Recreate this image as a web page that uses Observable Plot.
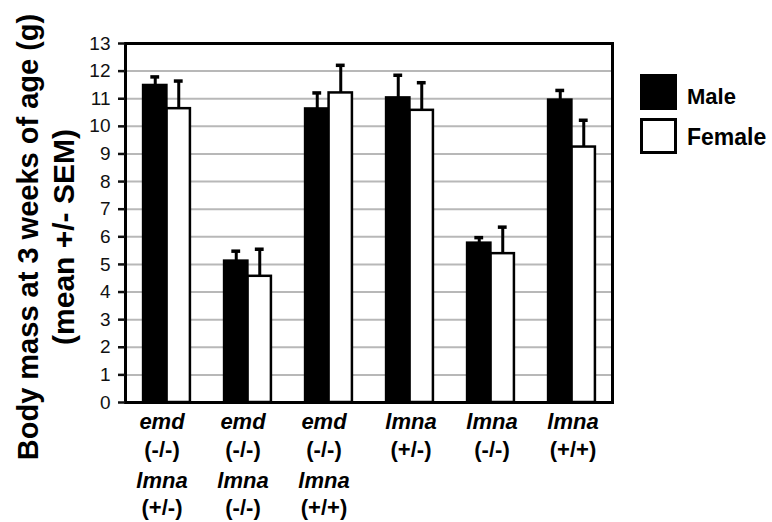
<!DOCTYPE html>
<html>
<head>
<meta charset="utf-8">
<script src="https://cdn.jsdelivr.net/npm/d3@7"></script>
<script src="https://cdn.jsdelivr.net/npm/@observablehq/plot@0.6"></script>
<style>
  html, body { margin: 0; padding: 0; background: white; }
  #wrap { position: relative; width: 772px; height: 522px; font-family: "Liberation Sans", Arial, sans-serif; }
  .sw { position: absolute; box-sizing: border-box; border: 3px solid black; width: 37px; height: 36px; }
  .lt { position: absolute; font-weight: bold; line-height: 1; transform: translateY(-50%); }
</style>
</head>
<body>
<div id="wrap"></div>
<script>
// ---- data ----
const groups = ["G1", "G2", "G3", "G4", "G5", "G6"];
const gene1 = ["emd", "emd", "emd", "lmna", "lmna", "lmna"];
const geno1 = ["(-/-)", "(-/-)", "(-/-)", "(+/-)", "(-/-)", "(+/+)"];
const gene2 = ["lmna", "lmna", "lmna", "", "", ""];
const geno2 = ["(+/-)", "(-/-)", "(+/+)", "", "", ""];
const maleMean = [11.48, 5.12, 10.63, 11.03, 5.77, 10.95];
const maleSem = [0.31, 0.36, 0.58, 0.82, 0.20, 0.35];
const femaleMean = [10.64, 4.57, 11.21, 10.58, 5.39, 9.25];
const femaleSem = [1.00, 0.98, 1.00, 1.00, 0.96, 0.97];
const yTicks = [0, 1, 2, 3, 4, 5, 6, 7, 8, 9, 10, 11, 12, 13];
const gridValues = [1, 2, 3, 4, 5, 6, 7, 8, 9, 10, 11, 12];
const seriesNames = ["Male", "Female"];
const yTitle1 = "Body mass at 3 weeks of age (g)";
const yTitle2 = "(mean +/- SEM)";

// ---- layout ----
const W = 772, H = 522;
const mL = 125, mR = 160, mT = 43, mB = 120;
const bw = (W - mL - mR) / groups.length;
const barW = 23.5;
const capHalf = 4.5;
const font = "Liberation Sans, Arial, sans-serif";

const idx = groups.map((g, i) => i);
const fourLine = idx.filter(i => gene2[i] !== "");
const twoLine = idx.filter(i => gene2[i] === "");
const male = idx.map(i => ({g: groups[i], v: maleMean[i], top: maleMean[i] + maleSem[i]}));
const female = idx.map(i => ({g: groups[i], v: femaleMean[i], top: femaleMean[i] + femaleSem[i]}));

const lbl = (data, arr, dy, italic, dx) => Plot.text(data, {
  x: i => groups[i], text: i => arr[i], frameAnchor: "bottom", lineAnchor: "bottom",
  dy, dx, fontSize: 22, fontWeight: "bold", fontStyle: italic ? "italic" : "normal", fill: "black"
});

const chart = Plot.plot({
  width: W, height: H,
  marginLeft: mL, marginRight: mR, marginTop: mT, marginBottom: mB,
  style: {fontFamily: font, background: "white", overflow: "visible"},
  x: {domain: groups, padding: 0, axis: null},
  y: {domain: [0, 13], axis: null},
  marks: [
    Plot.ruleY(gridValues, {stroke: "#b8b8b8", strokeWidth: 2}),
    Plot.barY(male, {x: "g", y: "v", fill: "black", stroke: "black", strokeWidth: 2.5,
      insetLeft: bw / 2 - barW, insetRight: bw / 2}),
    Plot.barY(female, {x: "g", y: "v", fill: "white", stroke: "black", strokeWidth: 2.5,
      insetLeft: bw / 2, insetRight: bw / 2 - barW}),
    Plot.ruleX(male, {x: "g", y1: "v", y2: "top", stroke: "black", strokeWidth: 3, dx: -barW / 2}),
    Plot.ruleX(female, {x: "g", y1: "v", y2: "top", stroke: "black", strokeWidth: 3, dx: barW / 2}),
    Plot.tickY(male, {x: "g", y: "top", stroke: "black", strokeWidth: 3.5,
      insetLeft: bw / 2 - barW / 2 - capHalf, insetRight: bw / 2 + barW / 2 - capHalf}),
    Plot.tickY(female, {x: "g", y: "top", stroke: "black", strokeWidth: 3.5,
      insetLeft: bw / 2 + barW / 2 - capHalf, insetRight: bw / 2 - barW / 2 - capHalf}),
    Plot.frame({stroke: "black", strokeWidth: 3}),
    Plot.axisY({ticks: yTicks, tickSize: 7, tickPadding: 8, fontSize: 19, strokeWidth: 2.5,
      color: "#111", label: null, tickFormat: d => String(d)}),
    lbl(fourLine, gene1, 26, true, -5),
    lbl(fourLine, geno1, 54, false, -5),
    lbl(fourLine, gene2, 85, true, -5),
    lbl(fourLine, geno2, 112, false, -5),
    lbl(twoLine, gene1, 26, true, 1),
    lbl(twoLine, geno1, 54, false, 1),
    Plot.text([yTitle1], {text: d => d, frameAnchor: "left", rotate: -90, lineAnchor: "bottom",
      textAnchor: "middle", dx: -88, dy: 14, fontSize: 29, fontWeight: "bold", fill: "black"}),
    Plot.text([yTitle2], {text: d => d, frameAnchor: "left", rotate: -90, lineAnchor: "bottom",
      textAnchor: "middle", dx: -52, dy: 14, fontSize: 30, fontWeight: "bold", fill: "black"})
  ]
});

const wrap = document.getElementById("wrap");
wrap.appendChild(chart);

// legend
const leg = [
  {name: seriesNames[0], fill: "black", top: 74, ty: 97, fs: 22},
  {name: seriesNames[1], fill: "white", top: 118, ty: 137, fs: 23}
];
for (const l of leg) {
  const s = document.createElement("div");
  s.className = "sw";
  s.style.left = "640px"; s.style.top = l.top + "px"; s.style.background = l.fill;
  wrap.appendChild(s);
  const t = document.createElement("div");
  t.className = "lt";
  t.style.left = "687px"; t.style.top = l.ty + "px"; t.style.fontSize = l.fs + "px";
  t.textContent = l.name;
  wrap.appendChild(t);
}
</script>
</body>
</html>
